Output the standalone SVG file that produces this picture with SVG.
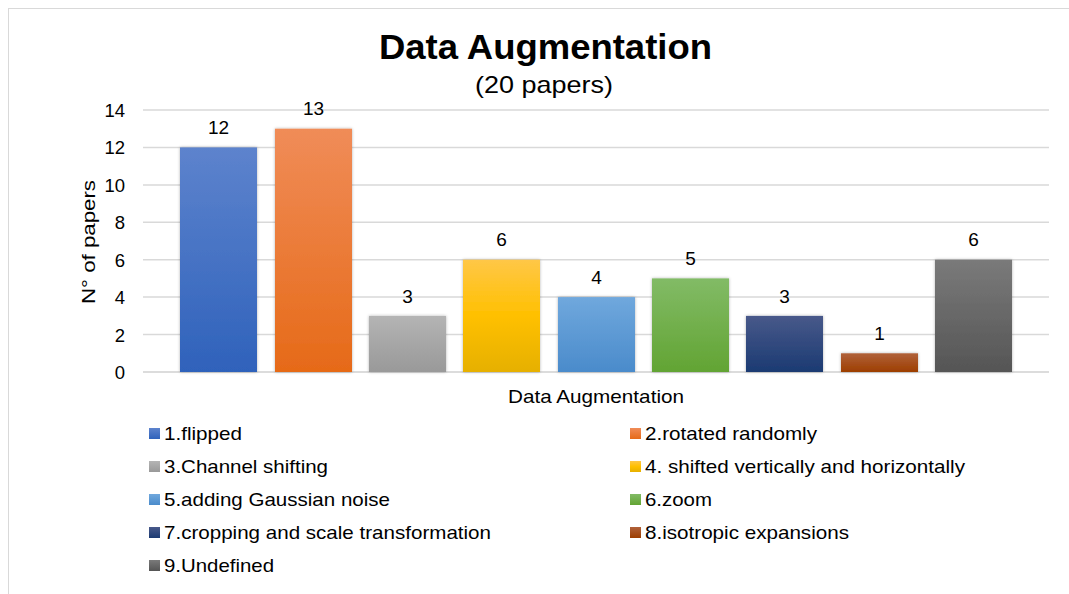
<svg xmlns="http://www.w3.org/2000/svg" width="1069" height="594" viewBox="0 0 1069 594">
<style>
text{font-family:"Liberation Sans",Arial,sans-serif;fill:#000}
.tick{font-size:18.5px;text-anchor:end}
.val{font-size:19px;text-anchor:middle}
.leg{font-size:18.5px}
.grid{stroke:#d9d9d9;stroke-width:1.5}
</style>
<defs>
<filter id="sh" x="-10%" y="-10%" width="120%" height="120%"><feDropShadow dx="0" dy="0" stdDeviation="1.5" flood-color="#000" flood-opacity="0.3"/></filter>
<linearGradient id="g1" x1="0" y1="0" x2="0" y2="1"><stop offset="0" stop-color="#5d83cd"/><stop offset="1" stop-color="#2f62bb"/></linearGradient>
<linearGradient id="g2" x1="0" y1="0" x2="0" y2="1"><stop offset="0" stop-color="#f08c58"/><stop offset="1" stop-color="#e66a18"/></linearGradient>
<linearGradient id="g3" x1="0" y1="0" x2="0" y2="1"><stop offset="0" stop-color="#b4b4b4"/><stop offset="1" stop-color="#999999"/></linearGradient>
<linearGradient id="g4" x1="0" y1="0" x2="0" y2="1"><stop offset="0" stop-color="#ffc747"/><stop offset="0.5" stop-color="#ffc000"/><stop offset="1" stop-color="#e6b000"/></linearGradient>
<linearGradient id="g5" x1="0" y1="0" x2="0" y2="1"><stop offset="0" stop-color="#70a8dd"/><stop offset="1" stop-color="#4a8bcb"/></linearGradient>
<linearGradient id="g6" x1="0" y1="0" x2="0" y2="1"><stop offset="0" stop-color="#82bb66"/><stop offset="1" stop-color="#62a433"/></linearGradient>
<linearGradient id="g7" x1="0" y1="0" x2="0" y2="1"><stop offset="0" stop-color="#48598a"/><stop offset="1" stop-color="#1b3a72"/></linearGradient>
<linearGradient id="g8" x1="0" y1="0" x2="0" y2="1"><stop offset="0" stop-color="#b0613a"/><stop offset="1" stop-color="#9d3e00"/></linearGradient>
<linearGradient id="g9" x1="0" y1="0" x2="0" y2="1"><stop offset="0" stop-color="#7a7a7a"/><stop offset="1" stop-color="#555555"/></linearGradient>
</defs>
<rect x="0" y="0" width="1069" height="594" fill="#ffffff"/>
<rect x="8.5" y="8.5" width="1070" height="590" fill="#ffffff" stroke="#d9d9d9" stroke-width="1"/>
<g id="title">
<text x="545.5" y="59" font-size="34.5" font-weight="bold" text-anchor="middle" textLength="333" lengthAdjust="spacingAndGlyphs">Data Augmentation</text>
<text x="544" y="93" font-size="24" text-anchor="middle" textLength="138" lengthAdjust="spacingAndGlyphs">(20 papers)</text>
</g>
<g id="grid">
<line class="grid" x1="143" y1="110" x2="1049" y2="110"/>
<line class="grid" x1="143" y1="147.4" x2="1049" y2="147.4"/>
<line class="grid" x1="143" y1="184.9" x2="1049" y2="184.9"/>
<line class="grid" x1="143" y1="222.3" x2="1049" y2="222.3"/>
<line class="grid" x1="143" y1="259.7" x2="1049" y2="259.7"/>
<line class="grid" x1="143" y1="297.1" x2="1049" y2="297.1"/>
<line class="grid" x1="143" y1="334.6" x2="1049" y2="334.6"/>
<line x1="143" y1="372" x2="1049" y2="372" stroke="#d0d0d0" stroke-width="1.5"/>
</g>
<g id="yaxis">
<text class="tick" x="125" y="116.5">14</text>
<text class="tick" x="125" y="154">12</text>
<text class="tick" x="125" y="191.5">10</text>
<text class="tick" x="125" y="229">8</text>
<text class="tick" x="125" y="266.5">6</text>
<text class="tick" x="125" y="304">4</text>
<text class="tick" x="125" y="341.5">2</text>
<text class="tick" x="125" y="379">0</text>
<text x="95" y="242" font-size="19" text-anchor="middle" textLength="124" lengthAdjust="spacingAndGlyphs" transform="rotate(-90 95 242)">N° of papers</text>
</g>
<g id="bars" filter="url(#sh)">
<rect id="bar1" x="180" y="147.4" width="77" height="224.6" fill="url(#g1)"/>
<rect id="bar2" x="275" y="128.7" width="77" height="243.3" fill="url(#g2)"/>
<rect id="bar3" x="369" y="315.9" width="77" height="56.1" fill="url(#g3)"/>
<rect id="bar4" x="463" y="259.7" width="77" height="112.3" fill="url(#g4)"/>
<rect id="bar5" x="558" y="297.1" width="77" height="74.9" fill="url(#g5)"/>
<rect id="bar6" x="652" y="278.4" width="77" height="93.6" fill="url(#g6)"/>
<rect id="bar7" x="746" y="315.9" width="77" height="56.1" fill="url(#g7)"/>
<rect id="bar8" x="841" y="353.3" width="77" height="18.7" fill="url(#g8)"/>
<rect id="bar9" x="935" y="259.7" width="77" height="112.3" fill="url(#g9)"/>
</g>
<g id="values">
<text class="val" x="218.5" y="134">12</text>
<text class="val" x="313.5" y="115">13</text>
<text class="val" x="407.5" y="303">3</text>
<text class="val" x="501.5" y="246">6</text>
<text class="val" x="596.5" y="284">4</text>
<text class="val" x="690.5" y="265">5</text>
<text class="val" x="784.5" y="303">3</text>
<text class="val" x="879.5" y="340">1</text>
<text class="val" x="973.5" y="246">6</text>
</g>
<text id="xtitle" x="596" y="403" font-size="19" text-anchor="middle" textLength="176" lengthAdjust="spacingAndGlyphs">Data Augmentation</text>
<g id="legend">
<rect x="149" y="428" width="11" height="11" fill="url(#g1)"/><text class="leg" x="164" y="440" textLength="78" lengthAdjust="spacingAndGlyphs">1.flipped</text>
<rect x="630" y="428" width="11" height="11" fill="url(#g2)"/><text class="leg" x="645" y="440" textLength="172" lengthAdjust="spacingAndGlyphs">2.rotated randomly</text>
<rect x="149" y="461" width="11" height="11" fill="url(#g3)"/><text class="leg" x="164" y="473" textLength="164" lengthAdjust="spacingAndGlyphs">3.Channel shifting</text>
<rect x="630" y="461" width="11" height="11" fill="url(#g4)"/><text class="leg" x="645" y="473" textLength="320" lengthAdjust="spacingAndGlyphs">4. shifted vertically and horizontally</text>
<rect x="149" y="494" width="11" height="11" fill="url(#g5)"/><text class="leg" x="164" y="506" textLength="226" lengthAdjust="spacingAndGlyphs">5.adding Gaussian noise</text>
<rect x="630" y="494" width="11" height="11" fill="url(#g6)"/><text class="leg" x="645" y="506" textLength="67" lengthAdjust="spacingAndGlyphs">6.zoom</text>
<rect x="149" y="527" width="11" height="11" fill="url(#g7)"/><text class="leg" x="164" y="539" textLength="327" lengthAdjust="spacingAndGlyphs">7.cropping and scale transformation</text>
<rect x="630" y="527" width="11" height="11" fill="url(#g8)"/><text class="leg" x="645" y="539" textLength="204" lengthAdjust="spacingAndGlyphs">8.isotropic expansions</text>
<rect x="149" y="560" width="11" height="11" fill="url(#g9)"/><text class="leg" x="164" y="572" textLength="110" lengthAdjust="spacingAndGlyphs">9.Undefined</text>
</g>
</svg>
